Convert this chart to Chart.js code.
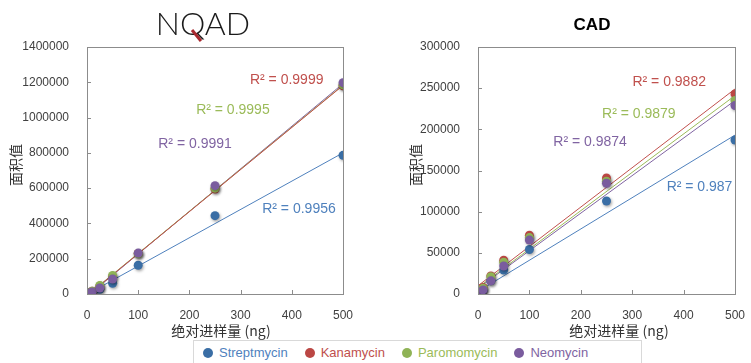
<!DOCTYPE html>
<html>
<head>
<meta charset="utf-8">
<script src="https://cdn.jsdelivr.net/npm/chart.js@4.4.0/dist/chart.umd.min.js"></script>
<style>
body { margin: 0; background: #fff; width: 751px; height: 363px; overflow: hidden; position: relative; font-family: "Liberation Sans", Arial, sans-serif; }
#left { position: absolute; left: 0; top: 0; }
#right { position: absolute; left: 375px; top: 0; }
#legend { position: absolute; left: 193px; top: 340px; width: 449px; height: 30px; border: 1px solid #d9d9d9; box-sizing: border-box; padding: 4px 0 0 9px; white-space: nowrap; font-size: 13px; }
#legend span.item { display: inline-block; margin-right: 17px; }
#legend i { display: inline-block; width: 10px; height: 10px; border-radius: 50%; margin-right: 6px; vertical-align: -1px; }
</style>
</head>
<body>
<canvas id="left" width="375" height="340"></canvas>
<canvas id="right" width="376" height="340"></canvas>
<div id="legend"></div>
<script>
const seriesNames = ['Streptmycin', 'Kanamycin', 'Paromomycin', 'Neomycin'];
const amounts = [1, 5, 10, 25, 50, 100, 250, 500];

// NQAD peak areas
const nqadStrep = [1500, 7000, 13000, 27000, 61000, 163000, 444000, 786000];
const nqadKana = [2000, 9000, 16000, 45000, 100000, 230000, 595000, 1180000];
const nqadParo = [2000, 8000, 15000, 48000, 105000, 228000, 600000, 1185000];
const nqadNeo = [1500, 6000, 12000, 34000, 85000, 232000, 614000, 1198000];
const nqadTrendEnds = [[-2000, 800000], [-10000, 1182000], [-8000, 1184000], [-14000, 1192000]];
const nqadR2 = ['0.9956', '0.9999', '0.9995', '0.9991'];

// CAD peak areas
const cadStrep = [500, 2000, 5000, 16000, 29000, 54000, 113000, 187000];
const cadKana = [1000, 4000, 8000, 22000, 41000, 71500, 141000, 243000];
const cadParo = [800, 3500, 7000, 21000, 38500, 68500, 137000, 235000];
const cadNeo = [600, 2500, 5000, 16000, 34000, 65500, 134500, 229000];
const cadTrendEnds = [[3000, 193000], [10000, 249000], [8000, 241000], [7000, 235000]];
const cadR2 = ['0.987', '0.9882', '0.9879', '0.9874'];

const xTicks = [0, 100, 200, 300, 400, 500];

const pointColors = ['#3a6ea5', '#bb4744', '#8fb356', '#7a5c9e'];
const lineColors = ['#4f81bd', '#c0504d', '#9bbb59', '#8064a2'];

function buildDatasets(series, trendEnds) {
    const sets = [];
    series.forEach((vals, i) => {
        sets.push({
            type: 'line',
            data: [{ x: 0, y: trendEnds[i][0] }, { x: 500, y: trendEnds[i][1] }],
            borderColor: lineColors[i],
            borderWidth: 1,
            pointRadius: 0,
            order: 10 + i
        });
        sets.push({
            type: 'scatter',
            data: amounts.map((a, j) => ({ x: a, y: vals[j] })),
            backgroundColor: pointColors[i],
            borderWidth: 0,
            pointRadius: 4.5,
            order: 4 - i,
            isPoints: true
        });
    });
    return sets;
}

function decorPlugin(cfg) {
    return {
        id: 'decor',
        beforeDatasetDraw(chart, args) {
            if (args.meta._dataset.isPoints) {
                const c = chart.ctx;
                c.save();
                c.shadowColor = 'rgba(0,0,0,0.35)';
                c.shadowBlur = 3;
                c.shadowOffsetX = 1;
                c.shadowOffsetY = 1.5;
            }
        },
        afterDatasetDraw(chart, args) {
            if (args.meta._dataset.isPoints) chart.ctx.restore();
        },
        afterDraw(chart) {
            const c = chart.ctx;
            const a = chart.chartArea;
            const xs = chart.scales.x, ys = chart.scales.y;
            c.save();
            // plot box
            c.strokeStyle = '#8c8c8c';
            c.lineWidth = 1;
            c.strokeRect(Math.round(a.left) + 0.5, Math.round(a.top) + 0.5, Math.round(a.right - a.left), Math.round(a.bottom - a.top));
            // inside tick marks
            c.beginPath();
            xs.ticks.forEach(t => {
                const px = Math.round(xs.getPixelForValue(t.value)) + 0.5;
                c.moveTo(px, a.bottom); c.lineTo(px, a.bottom - 4);
            });
            ys.ticks.forEach(t => {
                const py = Math.round(ys.getPixelForValue(t.value)) + 0.5;
                c.moveTo(a.left, py); c.lineTo(a.left + 4, py);
            });
            c.stroke();
            // R² labels
            c.font = '14px "Liberation Sans", Arial, sans-serif';
            c.textAlign = 'center';
            c.textBaseline = 'middle';
            cfg.r2.forEach((r, i) => {
                c.fillStyle = lineColors[i];
                c.fillText('R² = ' + r, xs.getPixelForValue(cfg.r2At[i][0]), ys.getPixelForValue(cfg.r2At[i][1]));
            });
            // axis titles
            c.fillStyle = '#333';
            c.font = '14px "Noto Sans CJK SC", "Liberation Sans", sans-serif';
            c.fillText('绝对进样量 (ng)', cfg.xTitle[0], cfg.xTitle[1]);
            c.save();
            c.translate(cfg.yTitle[0], cfg.yTitle[1]);
            c.rotate(-Math.PI / 2);
            c.fillText('面积值', 0, 0);
            c.restore();
            cfg.drawTitle(c);
            c.restore();
        }
    };
}

function makeChart(id, series, trendEnds, yMax, yStep, padRight, yWidth, cfg) {
    return new Chart(document.getElementById(id), {
        data: { datasets: buildDatasets(series, trendEnds) },
        options: {
            responsive: false,
            animation: false,
            layout: { padding: { left: 0, right: padRight, top: 47, bottom: 0 } },
            plugins: { legend: { display: false }, tooltip: { enabled: false } },
            scales: {
                x: {
                    type: 'linear', min: 0, max: 500,
                    afterBuildTicks: s => { s.ticks = xTicks.map(v => ({ value: v })); },
                    ticks: { color: '#404040', font: { size: 12, family: '"Liberation Sans", Arial' }, padding: 6, maxRotation: 0, callback: v => String(v) },
                    grid: { display: false }, border: { display: false },
                    afterFit: s => { s.height = 46; }
                },
                y: {
                    type: 'linear', min: 0, max: yMax,
                    ticks: { stepSize: yStep, color: '#404040', font: { size: 12, family: '"Liberation Sans", Arial' }, padding: 10, callback: v => String(v) },
                    grid: { display: false }, border: { display: false },
                    afterFit: s => { s.width = yWidth; }
                }
            }
        },
        plugins: [decorPlugin(cfg)]
    });
}

makeChart('left', [nqadStrep, nqadKana, nqadParo, nqadNeo], nqadTrendEnds, 1400000, 200000, 32, 87, {
    r2: nqadR2,
    r2At: [[414, 482000], [390, 1213000], [285, 1043000], [211, 850000]],
    xTitle: [221, 331],
    yTitle: [16, 165],
    drawTitle(c) {
        c.fillStyle = '#1a1a1a';
        c.font = '300 32px Lato, "DejaVu Sans", sans-serif';
        c.textAlign = 'center';
        c.textBaseline = 'alphabetic';
        c.fillText('NQAD', 203, 35);
        c.strokeStyle = '#a8282e';
        c.lineWidth = 3;
        c.beginPath();
        c.moveTo(192, 30); c.lineTo(201, 41);
        c.stroke();
    }
});

makeChart('right', [cadStrep, cadKana, cadParo, cadNeo], cadTrendEnds, 300000, 50000, 11, 103, {
    r2: cadR2,
    r2At: [[431, 130000], [372, 257500], [313, 218600], [218, 184600]],
    xTitle: [244, 331],
    yTitle: [41, 165],
    drawTitle(c) {
        c.fillStyle = '#000';
        c.font = 'bold 17px "Liberation Sans", Arial, sans-serif';
        c.textAlign = 'center';
        c.textBaseline = 'middle';
        c.fillText('CAD', 217, 25);
    }
});

const legend = document.getElementById('legend');
seriesNames.forEach((n, i) => {
    const s = document.createElement('span');
    s.className = 'item';
    s.style.color = lineColors[i];
    s.innerHTML = '<i style="background:' + pointColors[i] + '"></i>' + n;
    legend.appendChild(s);
});
</script>
</body>
</html>
